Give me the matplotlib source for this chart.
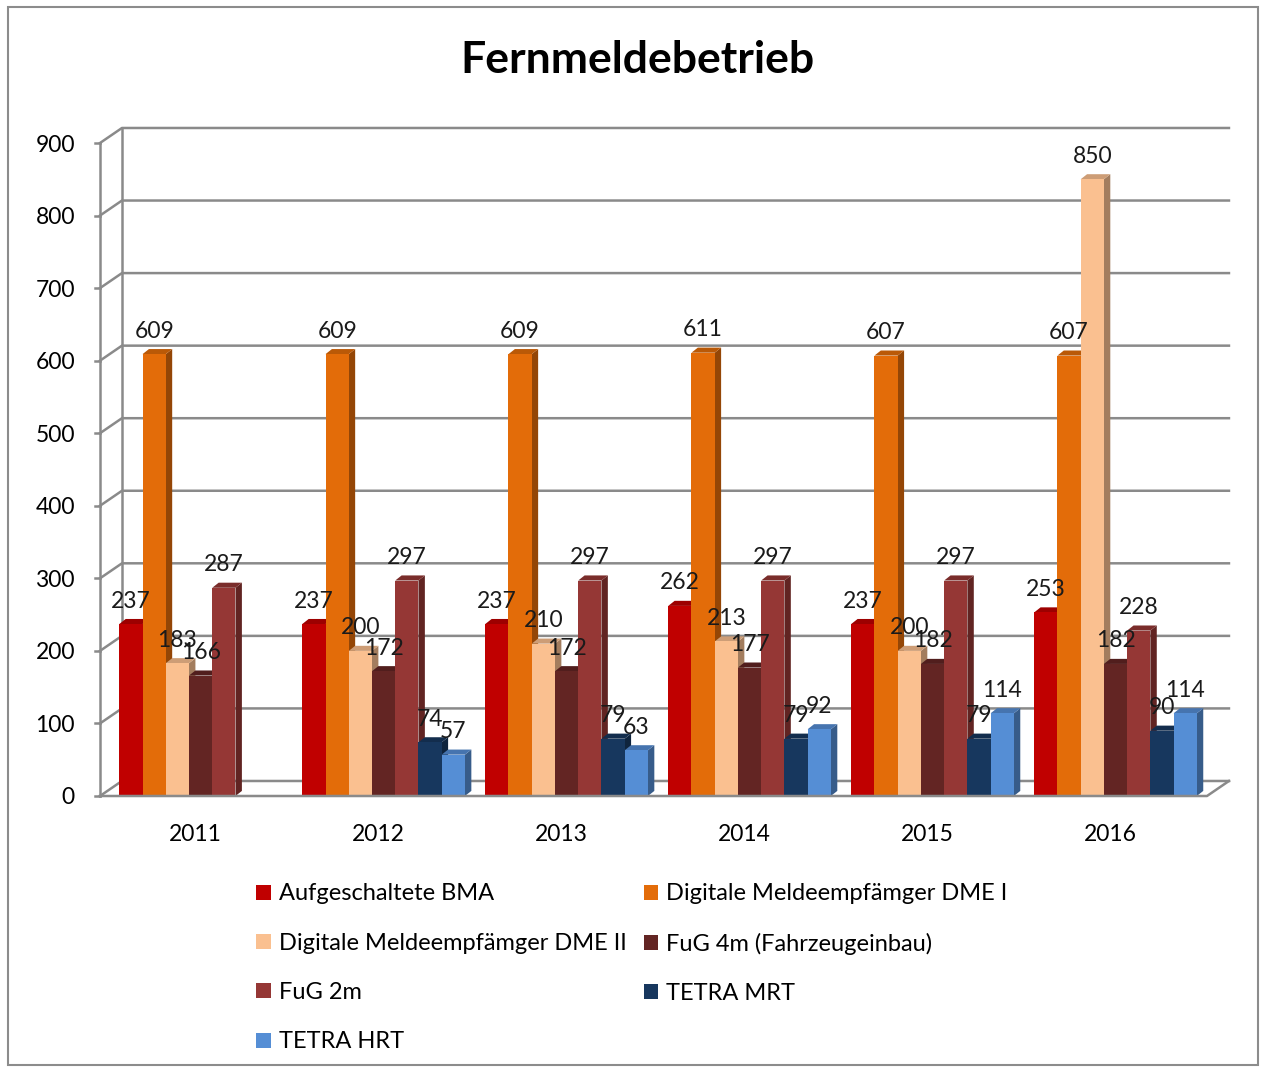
import numpy as np
import matplotlib.pyplot as plt
from matplotlib.patches import Polygon, Patch, Rectangle
import matplotlib.colors as mcolors

plt.rcParams['font.family'] = ['Lato', 'DejaVu Sans']

years = ['2011', '2012', '2013', '2014', '2015', '2016']
series = ['Aufgeschaltete BMA', 'Digitale Meldeempfämger DME I',
          'Digitale Meldeempfämger DME II', 'FuG 4m (Fahrzeugeinbau)',
          'FuG 2m', 'TETRA MRT', 'TETRA HRT']
bma = [237, 237, 237, 262, 237, 253]
dme1 = [609, 609, 609, 611, 607, 607]
dme2 = [183, 200, 210, 213, 200, 850]
fug4 = [166, 172, 172, 177, 182, 182]
fug2 = [287, 297, 297, 297, 297, 228]
mrt = [np.nan, 74, 79, 79, 79, 90]
hrt = [np.nan, 57, 63, 92, 114, 114]
values = [bma, dme1, dme2, fug4, fug2, mrt, hrt]
colors = ['#C00000', '#E36C09', '#FAC090', '#632523', '#953735', '#17375E', '#558ED5']

fig = plt.figure(figsize=(12.66, 10.70), dpi=100)
ax = fig.add_axes([100/1266, 274/1070, 1107/1266, 653/1070])
fig.add_artist(Rectangle((8/1266, 5/1070), 1250/1266, 1058/1070, transform=fig.transFigure,
                         fill=False, edgecolor='#8c8c8c', linewidth=1.5))

x = np.arange(len(years))
w = 0.127
dxb, dyb = 0.035, 7      # bar depth
dxw, dyw = 0.12, 20.7    # back wall offset
grid_c = '#8a8a8a'
x0, x1 = -0.55, 5.5

# back wall grid
for t in range(0, 1000, 100):
    ax.plot([x0, x0 + dxw, x1 + dxw], [t, t + dyw, t + dyw], color=grid_c, lw=1.8,
            clip_on=False, zorder=1)
    ax.plot([x0 - 0.025, x0], [t, t], color=grid_c, lw=1.8, clip_on=False, zorder=1)
ax.plot([x0 + dxw, x0 + dxw], [dyw, 900 + dyw], color=grid_c, lw=1.8, clip_on=False, zorder=1)
ax.plot([x0, x0], [0, 900], color=grid_c, lw=1.8, clip_on=False, zorder=1)
# floor
ax.plot([x0, x1, x1 + dxw], [0, 0, dyw], color=grid_c, lw=1.8, clip_on=False, zorder=4)

for i, (vals, col) in enumerate(zip(values, colors)):
    pos = x + (i - 3) * w
    bars = ax.bar(pos, vals, width=w, color=col, zorder=3, linewidth=0)
    rgb = np.array(mcolors.to_rgb(col))
    side_c = rgb * 0.65
    top_c = rgb * 0.82
    for r, v in zip(bars, vals):
        if np.isnan(v):
            continue
        bx, bw, bh = r.get_x(), r.get_width(), r.get_height()
        ax.add_patch(Polygon([(bx + bw, 0), (bx + bw + dxb, dyb), (bx + bw + dxb, bh + dyb),
                              (bx + bw, bh)], closed=True, color=side_c, zorder=2, lw=0))
        ax.add_patch(Polygon([(bx, bh), (bx + dxb, bh + dyb), (bx + bw + dxb, bh + dyb),
                              (bx + bw, bh)], closed=True, color=top_c, zorder=2, lw=0))
        ax.annotate(f'{int(v)}', (bx + bw / 2, bh), xytext=(0, 9), textcoords='offset points',
                    ha='center', va='bottom', fontsize=16.5, color='#1a1a1a', zorder=6)

ax.set_xlim(x0, x1)
ax.set_ylim(0, 900)
ax.set_yticks(range(0, 1000, 100))
ax.set_xticks(x - 0.03)
ax.set_xticklabels(years)
ax.tick_params(axis='x', length=0, pad=20, labelsize=16.5)
ax.tick_params(axis='y', length=0, pad=18, labelsize=16.5)
for s in ax.spines.values():
    s.set_visible(False)

fig.text(637/1266, 1 - 60/1070, 'Fernmeldebetrieb', ha='center', va='center',
         fontsize=32, fontweight='bold')

handles = [Patch(facecolor=c, label=s) for c, s in zip(colors, series)]
order = [0, 2, 4, 6, 1, 3, 5]
fig.legend([handles[k] for k in order], [series[k] for k in order], ncol=2,
           loc='upper left', bbox_to_anchor=(247/1266, 1 - 874/1070), frameon=False,
           fontsize=17, handlelength=0.6, handleheight=0.6, handletextpad=0.35,
           columnspacing=0.72, labelspacing=1.2, borderaxespad=0)

fig.savefig('out.png', dpi=100)
